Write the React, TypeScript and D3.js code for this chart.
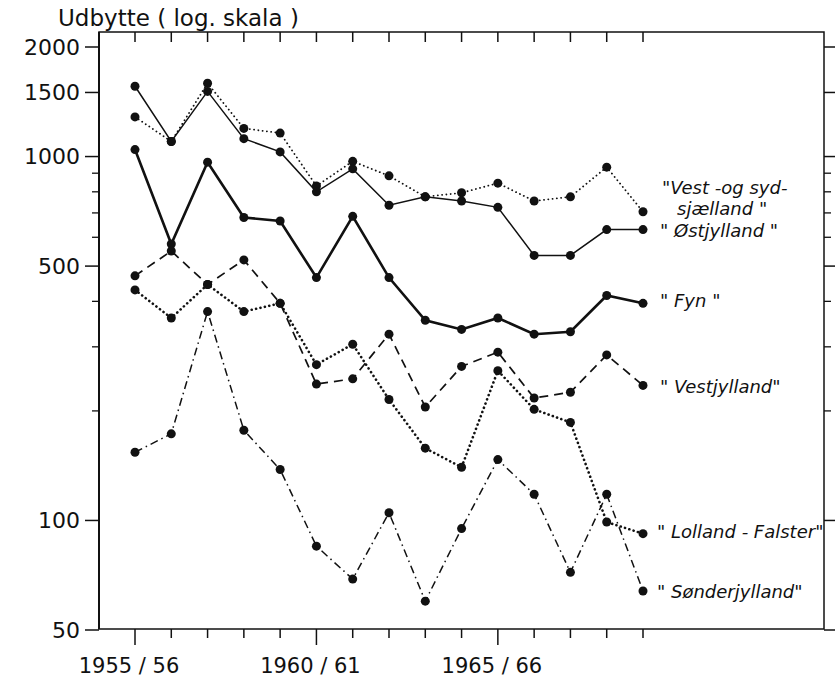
import React from "react";
import * as d3 from "d3";

// seasons 1955/56 .. 1969/70
const seasons = [
  "1955/56", "1956/57", "1957/58", "1958/59", "1959/60", "1960/61", "1961/62",
  "1962/63", "1963/64", "1964/65", "1965/66", "1966/67", "1967/68", "1968/69", "1969/70",
];

const ostjylland = [1560, 1100, 1510, 1120, 1030, 800, 925, 735, 775, 755, 725, 535, 535, 630, 630];
const vestSyd = [1285, 1100, 1590, 1195, 1160, 830, 970, 885, 775, 795, 845, 755, 775, 935, 705];
const fyn = [1045, 575, 965, 680, 665, 465, 685, 465, 355, 335, 360, 325, 330, 415, 395];
const vestjylland = [470, 550, 445, 520, 395, 237, 245, 325, 205, 265, 290, 217, 225, 285, 235];
const lollandFalster = [430, 360, 445, 375, 395, 268, 305, 215, 158, 140, 258, 202, 186, 99, 92];
const sonderjylland = [154, 173, 375, 177, 138, 85, 69, 105, 60, 95, 147, 118, 72, 118, 64];

const majorYTicks = [50, 100, 500, 1000, 1500, 2000];
const minorYTicks = [200, 300, 400, 600, 700, 800, 900];
const xLabels = [
  { idx: 0, text: "1955 / 56" },
  { idx: 5, text: "1960 / 61" },
  { idx: 10, text: "1965 / 66" },
];

const series = [
  { name: "vestSyd", values: vestSyd, width: 1.8, dash: "0.1 4.2", cap: "round" },
  { name: "ostjylland", values: ostjylland, width: 1.5, dash: null, cap: "butt" },
  { name: "fyn", values: fyn, width: 2.6, dash: null, cap: "butt" },
  { name: "vestjylland", values: vestjylland, width: 1.7, dash: "9 6", cap: "butt" },
  { name: "lollandFalster", values: lollandFalster, width: 2.6, dash: "0.1 4.4", cap: "round" },
  { name: "sonderjylland", values: sonderjylland, width: 1.5, dash: "8 4 1.5 4", cap: "butt" },
];

const labels = [
  { text: "\"Vest -og  syd-", x: 662, y: 194 },
  { text: "sjælland \"", x: 677, y: 215 },
  { text: "\" Østjylland \"", x: 660, y: 237 },
  { text: "\"  Fyn \"", x: 660, y: 307 },
  { text: "\" Vestjylland\"", x: 660, y: 393 },
  { text: "\" Lolland - Falster\"", x: 657, y: 538 },
  { text: "\" Sønderjylland\"", x: 657, y: 598 },
];

const left = 99;
const right = 824;
const top = 32;
const bottom = 629;

export default function App() {
  const x = d3.scaleLinear().domain([0, seasons.length - 1]).range([135, 643]);
  const y = d3.scaleLog().domain([50, 2000]).range([630, 47]);
  const line = d3
    .line<number>()
    .x((_, i) => x(i))
    .y((d) => y(d));

  const font = "'DejaVu Sans', sans-serif";

  return (
    <svg
      width={835}
      height={678}
      style={{ position: "absolute", left: 0, top: 0, background: "#fff" }}
    >
      <rect width={835} height={678} fill="#fff" />

      {/* frame */}
      <rect
        x={left}
        y={top}
        width={right - left}
        height={bottom - top}
        fill="none"
        stroke="#111"
        strokeWidth={1.5}
      />
      <line x1={left} x2={left} y1={top} y2={bottom} stroke="#111" strokeWidth={2} />

      {/* y ticks left and right */}
      {majorYTicks.map((t) => (
        <g key={"M" + t}>
          <line x1={left - 14} x2={left} y1={y(t)} y2={y(t)} stroke="#111" strokeWidth={1.5} />
          <line x1={right} x2={right + 12} y1={y(t)} y2={y(t)} stroke="#111" strokeWidth={1.5} />
          <text
            x={80}
            y={y(t)}
            dy="0.36em"
            textAnchor="end"
            fontFamily={font}
            fontSize={22}
            fill="#111"
          >
            {t}
          </text>
        </g>
      ))}
      {minorYTicks.map((t) => (
        <g key={"m" + t}>
          <line x1={left - 7} x2={left} y1={y(t)} y2={y(t)} stroke="#111" strokeWidth={1.3} />
          <line x1={right} x2={right + 7} y1={y(t)} y2={y(t)} stroke="#111" strokeWidth={1.3} />
        </g>
      ))}

      {/* x ticks bottom (outward) and top (inward) */}
      {seasons.map((s, i) => {
        const major = i % 5 === 0;
        return (
          <g key={s}>
            <line
              x1={x(i)}
              x2={x(i)}
              y1={bottom}
              y2={bottom + (major ? 16 : 9)}
              stroke="#111"
              strokeWidth={1.5}
            />
            <line x1={x(i)} x2={x(i)} y1={top} y2={top + 10} stroke="#111" strokeWidth={1.5} />
          </g>
        );
      })}
      {xLabels.map((l) => (
        <text
          key={l.text}
          x={x(l.idx) - 6}
          y={673}
          textAnchor="middle"
          fontFamily={font}
          fontSize={21}
          fill="#111"
        >
          {l.text}
        </text>
      ))}

      {/* title */}
      <text x={58} y={26} fontFamily={font} fontSize={23} fill="#111">
        Udbytte ( log. skala )
      </text>

      {/* series */}
      {series.map((s) => (
        <g key={s.name}>
          <path
            d={line(s.values) || ""}
            fill="none"
            stroke="#111"
            strokeWidth={s.width}
            strokeDasharray={s.dash || undefined}
            strokeLinecap={s.cap as any}
          />
          {s.values.map((v, i) => (
            <circle key={i} cx={x(i)} cy={y(v)} r={4.5} fill="#111" />
          ))}
        </g>
      ))}

      {/* series labels */}
      {labels.map((l) => (
        <text
          key={l.text}
          x={l.x}
          y={l.y}
          fontFamily={font}
          fontStyle="italic"
          fontSize={18}
          fill="#111"
        >
          {l.text}
        </text>
      ))}
    </svg>
  );
}
